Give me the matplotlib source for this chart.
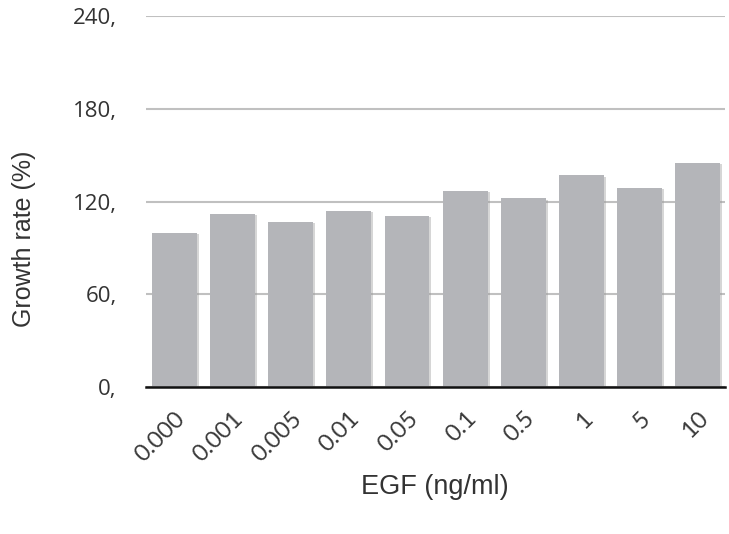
import numpy as np
import matplotlib
matplotlib.use("Agg")
import matplotlib.pyplot as plt
import matplotlib.patheffects as pe
from matplotlib.transforms import ScaledTranslation

## dados do grafico
doses = ['0.000', '0.001', '0.005', '0.01', '0.05', '0.1', '0.5', '1', '5', '10']
crescimento = [100, 112, 107, 114, 111, 127, 122, 137, 129, 145]
yticks = [0, 60, 120, 180, 240]
ytick_labels = ['0,', '60,', '120,', '180,', '240,']

plt.rcParams['font.family'] = ['Open Sans', 'DejaVu Sans']

fig = plt.figure(figsize=(7.29, 5.34), dpi=100)
ax = fig.add_axes([0.2, 0.275, 0.794, 0.695])

x = np.arange(len(doses))
barras = ax.bar(x, crescimento, width=0.77, color='#b4b5b9', zorder=3)
for b in barras:
    b.set_path_effects([pe.SimplePatchShadow(offset=(1.5, -1), shadow_rgbFace='#999999', alpha=0.4),
                        pe.Normal()])

ax.set_ylim(0, 240)
ax.set_xlim(-0.49, len(doses) - 0.54)
ax.set_yticks(yticks)
ax.set_yticklabels(ytick_labels, fontsize=16, color='#333333')
ax.yaxis.grid(True, color='#c0c0c0', linewidth=1.5, zorder=0)
ax.tick_params(axis='y', length=0, pad=21)
ax.tick_params(axis='x', length=0, pad=15)

ax.set_xticks(x)
ax.set_xticklabels(doses, rotation=45, ha='right', va='top', rotation_mode='anchor',
                   fontsize=17, color='#3a3a3a', family=['Lato', 'DejaVu Sans'])
desloc = ScaledTranslation(0 / 100, 0, fig.dpi_scale_trans)
for lbl in ax.get_xticklabels():
    lbl.set_transform(lbl.get_transform() + desloc)

for lado in ['top', 'right', 'left']:
    ax.spines[lado].set_visible(False)
ax.spines['bottom'].set_color('#111111')
ax.spines['bottom'].set_linewidth(1.8)
ax.spines['bottom'].set_zorder(4)

ax.set_ylabel('Growth rate (%)', fontsize=18, color='#333333',
              family=['Liberation Sans', 'DejaVu Sans'])
ax.yaxis.set_label_coords(-0.19, 0.40)
ax.set_xlabel('EGF (ng/ml)', fontsize=19.5, color='#333333',
              family=['Liberation Sans', 'DejaVu Sans'])
ax.xaxis.set_label_coords(0.5, -0.235)

fig.savefig('out.png', dpi=100)
